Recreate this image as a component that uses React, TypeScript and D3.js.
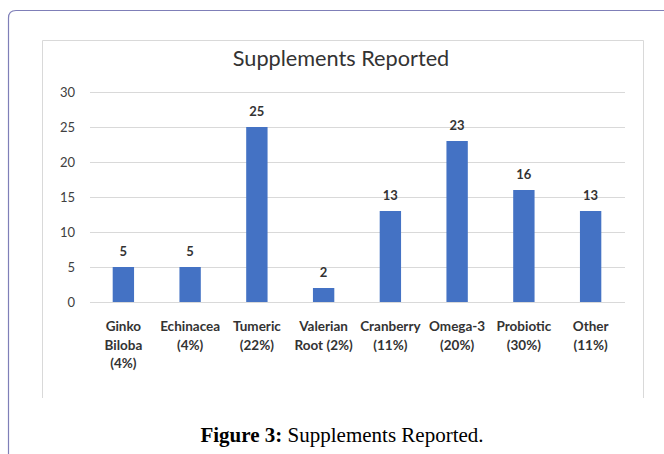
import React from "react";
import * as d3 from "d3";

const categories: string[][] = [
  ["Ginko", "Biloba", "(4%)"],
  ["Echinacea", "(4%)"],
  ["Tumeric", "(22%)"],
  ["Valerian", "Root (2%)"],
  ["Cranberry", "(11%)"],
  ["Omega-3", "(20%)"],
  ["Probiotic", "(30%)"],
  ["Other", "(11%)"],
];
const values: number[] = [5, 5, 25, 2, 13, 23, 16, 13];
const yTicks: number[] = [0, 5, 10, 15, 20, 25, 30];
const chartTitle = "Supplements Reported";

const W = 664;
const H = 454;
const FONT = "Lato, 'Open Sans', sans-serif";

export default function App() {
  const keys = categories.map((c) => c.join(" "));
  const x = d3.scaleBand<string>().domain(keys).range([90, 624]).paddingInner(0.68).paddingOuter(0.34);
  const y = d3.scaleLinear().domain([0, 30]).range([302, 92]);

  return (
    <svg
      width={W}
      height={H}
      style={{ position: "fixed", left: 0, top: 0, background: "#fff" }}
      xmlns="http://www.w3.org/2000/svg"
    >
      <rect x={0} y={0} width={W} height={H} fill="#fff" />
      {/* outer frame */}
      <path d={`M8.5,${H + 5} L8.5,18 Q8.5,10.5 16,10.5 L${W + 5},10.5`} fill="none" stroke="#7f7fb8" strokeWidth={1.2} />
      {/* chart box */}
      <path d={`M42.5,398 L42.5,40.5 L643.5,40.5 L643.5,398`} fill="none" stroke="#d9d9d9" strokeWidth={1} />
      <text x={341} y={66} textAnchor="middle" fontFamily={FONT} fontSize={21.7} fill="#333">
        {chartTitle}
      </text>
      {yTicks.map((t) => (
        <g key={t}>
          <line x1={90} x2={625} y1={Math.round(y(t)) + 0.5} y2={Math.round(y(t)) + 0.5} stroke="#d9d9d9" strokeWidth={1} />
          <text x={75} y={y(t) + 4.5} textAnchor="end" fontFamily={FONT} fontSize={13} fill="#404040">
            {t}
          </text>
        </g>
      ))}
      {values.map((v, i) => {
        const k = keys[i];
        const bx = x(k)!;
        const bw = x.bandwidth();
        return (
          <g key={k}>
            <rect x={bx} y={y(v)} width={bw} height={y(0) - y(v)} fill="#4472C4" />
            <text x={bx + bw / 2} y={y(v) - 11} textAnchor="middle" fontFamily={FONT} fontWeight="bold" fontSize={13} fill="#333">
              {v}
            </text>
            {categories[i].map((line, j) => (
              <text
                key={j}
                x={bx + bw / 2}
                y={331 + j * 18.5}
                textAnchor="middle"
                fontFamily={FONT}
                fontWeight="bold"
                fontSize={13.5}
                fill="#333"
              >
                {line}
              </text>
            ))}
          </g>
        );
      })}
      <text x={342} y={442} textAnchor="middle" fontFamily="'Liberation Serif', 'Times New Roman', serif" fontSize={21} fill="#000">
        <tspan fontWeight="bold">Figure 3:</tspan>
        <tspan> Supplements Reported.</tspan>
      </text>
    </svg>
  );
}
